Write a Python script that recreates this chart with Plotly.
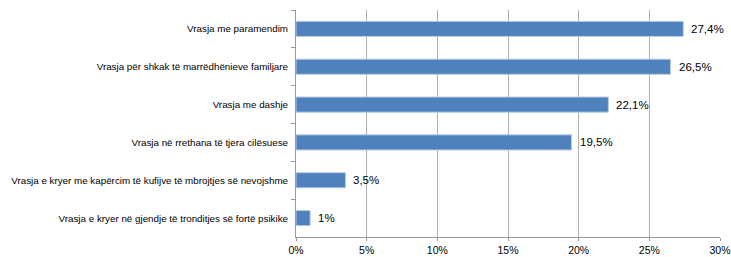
import plotly.graph_objects as go

categories = [
    "Vrasja me paramendim",
    "Vrasja për shkak të marrëdhënieve familjare",
    "Vrasja me dashje",
    "Vrasja në rrethana të tjera cilësuese",
    "Vrasja e kryer me kapërcim të kufijve të mbrojtjes së nevojshme",
    "Vrasja e kryer në gjendje të tronditjes së fortë psikike",
]
values = [27.4, 26.5, 22.1, 19.5, 3.5, 1.0]
labels = [f"{v:g}".replace(".", ",") + "%" for v in values]
x_ticks = [0, 5, 10, 15, 20, 25, 30]
x_tick_labels = [f"{t}%" for t in x_ticks]

fig = go.Figure(
    go.Bar(
        x=values,
        y=categories,
        orientation="h",
        width=0.4,
        marker=dict(color="#4F81BD", line=dict(color="#B9CDE5", width=1)),
        hoverinfo="skip",
    )
)

for v, c, t in zip(values, categories, labels):
    fig.add_annotation(
        x=v, y=c, text=t, showarrow=False, xanchor="left", yanchor="middle",
        xshift=6, font=dict(family="Liberation Sans", size=11.5, color="#000000"),
    )

fig.update_layout(
    width=731,
    height=257,
    margin=dict(l=296, r=11, t=10, b=20, autoexpand=False),
    paper_bgcolor="white",
    plot_bgcolor="white",
    showlegend=False,
    font=dict(family="Liberation Sans", color="#000000"),
)

fig.update_xaxes(
    range=[0, 30],
    tickvals=x_ticks,
    ticktext=x_tick_labels,
    showgrid=True,
    gridcolor="#AFAFAF",
    gridwidth=1,
    zeroline=False,
    showline=True,
    linecolor="#9A9A9A",
    linewidth=1,
    ticks="outside",
    ticklen=3,
    tickcolor="#9A9A9A",
    tickfont=dict(family="Liberation Sans", size=10.5, color="#000000"),
    automargin=False,
    fixedrange=True,
)

fig.update_yaxes(
    autorange="reversed",
    type="category",
    tickson="boundaries",
    ticks="outside",
    ticklen=4,
    tickcolor="#9A9A9A",
    showline=True,
    linecolor="#9A9A9A",
    linewidth=1,
    showgrid=False,
    tickfont=dict(family="Liberation Sans", size=9.8, color="#000000"),
    ticklabelstandoff=5,
    automargin=False,
    fixedrange=True,
)

fig.write_html(
    "out.html",
    config={"displayModeBar": False, "staticPlot": True},
    post_script="document.body.style.margin='0px';document.body.style.padding='0px';",
)
